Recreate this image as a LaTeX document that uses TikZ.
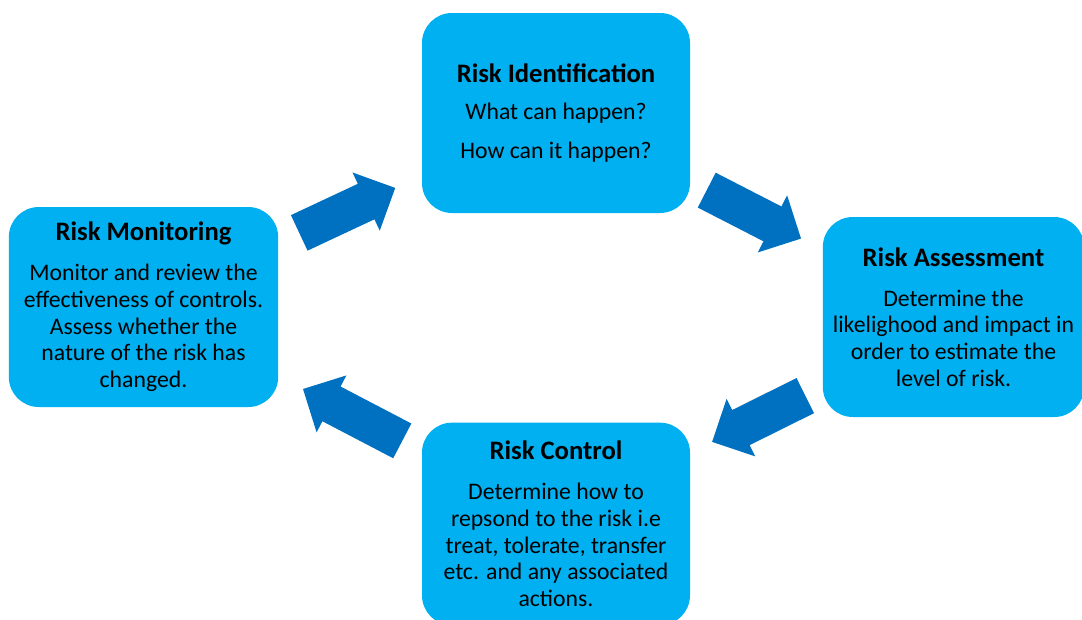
\documentclass[tikz,border=0pt]{standalone}
\usepackage{fontspec}
\setmainfont{Carlito}
\usetikzlibrary{positioning,shapes.arrows}

\definecolor{boxblue}{HTML}{00B0F0}
\definecolor{arrowblue}{HTML}{0070C0}

\newcommand{\stagehead}[1]{{\fontsize{20}{20}\selectfont\bfseries #1}}

\tikzset{
  stage/.style={fill=boxblue, rounded corners=22.5pt, inner sep=0pt, align=center,
    font=\fontsize{17.8}{20}\selectfont, minimum width=201pt, minimum height=150pt},
  flow/.style={single arrow, fill=arrowblue, inner sep=0pt, anchor=tail,
    single arrow head extend=9.4pt, minimum height=79.5pt},
}

\begin{document}
\begin{tikzpicture}[x=0.75pt,y=0.75pt]
        \useasboundingbox (0,0) rectangle (1082,-619);

        % the four stages
        \node[stage] (ident) at (556,-113) {\stagehead{Risk Identification}\\[7.5pt]
            What can happen?\\[9pt] How can it happen?};
        \node[stage, minimum width=196pt] (assess) at (953.5,-317) {\stagehead{Risk Assessment}\\[10pt]
            Determine the\\ likelighood and impact in\\ order to estimate the\\ level of risk.};
        \node[stage, minimum height=152pt] (control) at (556,-524) {\stagehead{Risk Control}\\[10pt]
            Determine how to\\ repsond to the risk i.e\\ treat, tolerate, transfer\\ etc. and any associated\\ actions.};
        \node[stage, minimum width=202pt] (monitor) at (143.5,-307) {\stagehead{Risk Monitoring}\\[10pt]
            Monitor and review the\\ effectiveness of controls.\\ Assess whether the\\ nature of the risk has\\ changed.};

        % block arrows, placed by their tails
        \node[flow, rotate=25.1] (monid) at (299,-233) {\rule{0pt}{29pt}};
        \node[flow, rotate=-27.2] (idas) at (706.5,-190) {\rule{0pt}{29pt}};
        \node[flow, rotate=206.4, minimum height=78pt] (ascon) at (805.5,-395.5) {\rule{0pt}{29pt}};
        \node[flow, rotate=152.4, minimum height=84pt] (conmon) at (402.5,-441) {\rule{0pt}{29pt}};

\end{tikzpicture}
\end{document}
